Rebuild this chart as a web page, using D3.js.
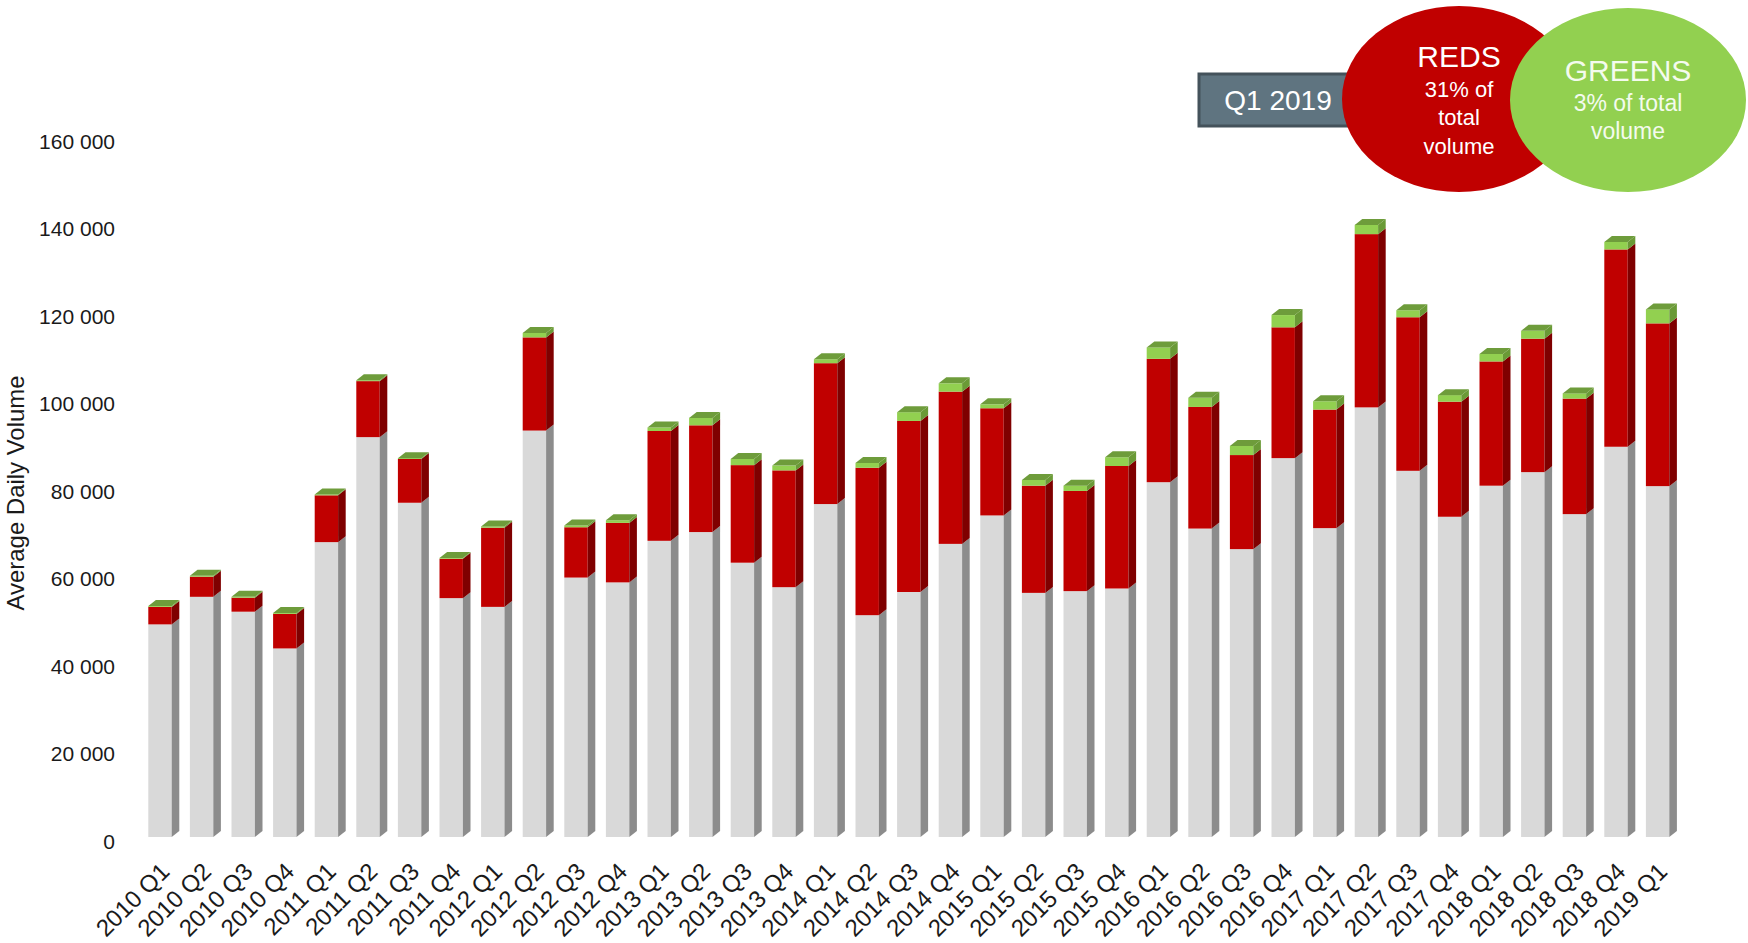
<!DOCTYPE html>
<html>
<head>
<meta charset="utf-8">
<script src="https://cdn.jsdelivr.net/npm/d3@7"></script>
<style>
  html, body { margin: 0; padding: 0; background: #ffffff; }
  svg { display: block; }
  text { font-family: "Liberation Sans", Arial, sans-serif; }
</style>
</head>
<body>
<svg id="chart" width="1748" height="943"></svg>
<script>
const categories = ["2010 Q1","2010 Q2","2010 Q3","2010 Q4","2011 Q1","2011 Q2","2011 Q3","2011 Q4",
  "2012 Q1","2012 Q2","2012 Q3","2012 Q4","2013 Q1","2013 Q2","2013 Q3","2013 Q4",
  "2014 Q1","2014 Q2","2014 Q3","2014 Q4","2015 Q1","2015 Q2","2015 Q3","2015 Q4",
  "2016 Q1","2016 Q2","2016 Q3","2016 Q4","2017 Q1","2017 Q2","2017 Q3","2017 Q4",
  "2018 Q1","2018 Q2","2018 Q3","2018 Q4","2019 Q1"];
const greys = [48600,54900,51500,43100,67400,91400,76400,54600,
  52600,92900,59300,58200,67700,69700,62700,57100,
  76100,50700,56000,67000,73500,55800,56200,56800,
  81100,70500,65800,86600,70600,98200,83700,73200,
  80300,83400,73800,89200,80200];
const reds = [4000,4600,3200,7900,10700,12800,10000,9000,
  18100,21300,11500,13600,25100,24400,22300,26700,
  32200,33700,39100,34800,24500,24500,22900,28000,
  28200,27800,21500,29900,27100,39600,35100,26300,
  28400,30500,26400,45100,37200];
const greens = [200,200,200,200,200,200,200,200,
  300,1000,400,600,800,1700,1400,1100,
  900,1100,2000,1900,900,1300,1200,2000,
  2600,2100,2100,2800,1900,2100,1600,1500,
  1700,1800,1200,1700,3200];
const yTicks = [0,20000,40000,60000,80000,100000,120000,140000,160000];
const yTitle = "Average Daily Volume";
const legendPeriod = "Q1 2019";
const redsLines = ["REDS","31% of","total","volume"];
const greensLines = ["GREENS","3% of total","volume"];

const svg = d3.select("#chart");
const x = d3.scaleBand().domain(categories).range([139.2, 1678.4]).paddingInner(0.4375).paddingOuter(0.21875);
const y = d3.scaleLinear().domain([0,160000]).range([837,137]);
const dx = 7.6, dy = 6;

const seriesDefs = [
  {vals: greys,  front: "#d9d9d9", side: "#8c8c8c", top: "#ededed"},
  {vals: reds,   front: "#c00000", side: "#7f0000", top: "#a00000"},
  {vals: greens, front: "#92d050", side: "#6a9a36", top: "#6e9c3b"}
];

const bars = svg.append("g");
categories.forEach((c, i) => {
  const x0 = x(c), w = x.bandwidth();
  let base = 0;
  const g = bars.append("g");
  seriesDefs.forEach((s, si) => {
    const v = s.vals[i];
    const yb = y(base), yt = y(base + v);
    g.append("rect").attr("x", x0).attr("y", yt).attr("width", w).attr("height", yb - yt).attr("fill", s.front);
    g.append("polygon").attr("points", [[x0+w,yt],[x0+w+dx,yt-dy],[x0+w+dx,yb-dy],[x0+w,yb]].map(p=>p.join(",")).join(" ")).attr("fill", s.side);
    if (si === seriesDefs.length - 1) {
      g.append("polygon").attr("points", [[x0,yt],[x0+dx,yt-dy],[x0+w+dx,yt-dy],[x0+w,yt]].map(p=>p.join(",")).join(" ")).attr("fill", s.top);
    }
    base += v;
  });
});

// Y axis labels
const yAxisG = svg.append("g");
yAxisG.selectAll("text").data(yTicks).join("text")
  .attr("x", 115).attr("y", d => y(d) + 6)
  .attr("text-anchor", "end").attr("dominant-baseline", "middle")
  .attr("font-size", 21).attr("fill", "#1a1a1a")
  .text(d => d3.format(",")(d).replace(/,/g, " "));

svg.append("text")
  .attr("transform", "translate(24,493) rotate(-90)")
  .attr("text-anchor", "middle")
  .attr("font-size", 24)
  .attr("fill", "#1a1a1a")
  .style("font-family", "'Liberation Sans Narrow', 'Arial Narrow', 'Liberation Sans', sans-serif")
  .attr("textLength", 235).attr("lengthAdjust", "spacingAndGlyphs")
  .text(yTitle);

// X labels
const xl = svg.append("g");
categories.forEach(c => {
  const cx = x(c) + x.bandwidth()/2 + 11;
  xl.append("text")
    .attr("transform", `translate(${cx},873) rotate(-45)`)
    .attr("text-anchor", "end")
    .attr("font-size", 24).attr("fill", "#1a1a1a")
    .text(c);
});

// Legend
const lg = svg.append("g");
lg.append("rect").attr("x", 1199).attr("y", 74).attr("width", 170).attr("height", 52)
  .attr("fill", "#5f7480").attr("stroke", "#44525b").attr("stroke-width", 3);
lg.append("text").attr("x", 1278).attr("y", 100).attr("text-anchor", "middle").attr("dominant-baseline", "central")
  .attr("font-size", 28).attr("fill", "#ffffff").text(legendPeriod);
lg.append("ellipse").attr("cx", 1459).attr("cy", 99).attr("rx", 117).attr("ry", 93).attr("fill", "#c00000");
lg.append("ellipse").attr("cx", 1628).attr("cy", 100).attr("rx", 118).attr("ry", 92).attr("fill", "#92d050");
const redY = [56, 89, 117, 146], redS = [30, 22, 22, 22];
redsLines.forEach((t, k) => lg.append("text").attr("x", 1459).attr("y", redY[k]).attr("text-anchor", "middle")
  .attr("dominant-baseline", "central").attr("font-size", redS[k]).attr("fill", "#ffffff").text(t));
const grY = [70, 103, 131], grS = [30, 23, 23];
greensLines.forEach((t, k) => lg.append("text").attr("x", 1628).attr("y", grY[k]).attr("text-anchor", "middle")
  .attr("dominant-baseline", "central").attr("font-size", grS[k]).attr("fill", "#f4fbee").text(t));
</script>
</body>
</html>
